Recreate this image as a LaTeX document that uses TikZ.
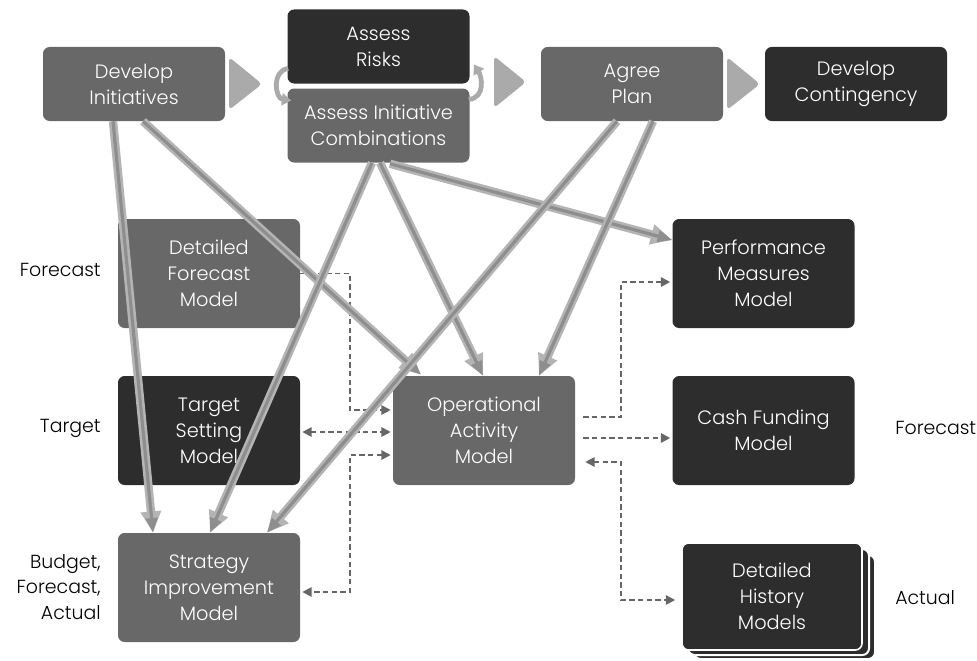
\documentclass[tikz,border=0pt]{standalone}
\usepackage{fontspec}
\setmainfont{Poppins}[UprightFont=*-Light]
\usetikzlibrary{arrows.meta,calc}
\definecolor{boxmid}{HTML}{686868}
\definecolor{boxdark}{HTML}{2D2D2D}
\definecolor{arrout}{HTML}{B4B4B4}
\definecolor{arrin}{HTML}{8E8E8E}
\definecolor{chev}{HTML}{AAAAAA}
\definecolor{dash}{HTML}{666666}
\tikzset{
  box/.style={rectangle, rounded corners=5pt, text=white, align=center,
    minimum width=136.5pt, minimum height=55.5pt, inner sep=2pt,
    font=\fontsize{14.5}{19.5}\selectfont},
  tall/.style={box, minimum height=81.75pt},
  mid/.style={fill=boxmid},
  dark/.style={fill=boxdark},
  lbl/.style={text=black, align=right, inner sep=0pt, font=\fontsize{14.2}{19}\selectfont},
  bigarrow/.style={line width=6.3pt, draw=arrout, -{Triangle[length=16pt,width=14.5pt]},
    postaction={draw=arrin, line width=2.4pt, -{Triangle[length=11pt,width=8.5pt]}}},
  dashedarrow/.style={draw=dash, line width=1.4pt, dash pattern=on 4pt off 2.5pt,
    -{Triangle[length=7pt,width=7pt]}},
  dashedboth/.style={dashedarrow, {Triangle[length=7pt,width=7pt]}-{Triangle[length=7pt,width=7pt]}},
  cycarrow/.style={draw=chev, line width=3.6pt, -{Triangle[length=7pt,width=9pt]}},
  chevron/.style={fill=chev, rounded corners=3pt}
}
\begin{document}
\begin{tikzpicture}[x=0.75pt,y=-0.75pt]
\useasboundingbox (0,0) rectangle (977,660);
% top row
\node[box,mid] (devinit) at (134,84) {Develop\\Initiatives};
\node[box,dark] (risks) at (378.5,46.5) {Assess\\Risks};
\node[box,mid] (combos) at (378.5,125.5) {Assess Initiative\\Combinations};
\node[box,mid] (agree) at (632,84) {Agree\\Plan};
\node[box,dark] (contin) at (856,84) {Develop\\Contingency};
% chevrons
\fill[chevron] (229,57) -- (262,84) -- (229,110) -- cycle;
\fill[chevron] (494,56) -- (526,82) -- (494,108) -- cycle;
\fill[chevron] (727,57) -- (760,84) -- (727,110) -- cycle;
% cycle arrows
\draw[cycarrow] ($(risks.west)+(1,22)$) .. controls +(-17,2) and +(-16,-2) .. ($(combos.west)+(4,-25)$);
\draw[cycarrow] ($(combos.east)+(-1,-26)$) .. controls +(17,-2) and +(8,12) .. ($(risks.east)+(4,18)$);
% models
\node[tall,mid] (dfm) at (209,273.5) {Detailed\\Forecast\\Model};
\node[tall,dark] (tsm) at (209,430.5) {Target\\Setting\\Model};
\node[tall,mid] (sim) at (209,587.5) {Strategy\\Improvement\\Model};
\node[tall,mid] (oam) at (484,430.5) {Operational\\Activity\\Model};
\node[tall,dark] (pmm) at (763.5,273.5) {Performance\\Measures\\Model};
\node[tall,dark] (cfm) at (763.5,430.5) {Cash Funding\\Model};
% stacked history models
\fill[boxdark, draw=white, line width=1.5pt, rounded corners=5pt] (694,555) rectangle (875,659);
\fill[boxdark, draw=white, line width=1.5pt, rounded corners=5pt] (688,549) rectangle (869,655);
\node[tall,dark,draw=white,line width=1.2pt,minimum width=135pt,minimum height=80.25pt] (dhm) at (772,596.5) {Detailed\\History\\Models};
% labels
\node[lbl,anchor=east] (l1) at (101,270) {Forecast};
\node[lbl,anchor=east] (l2) at (101,428) {Target};
\node[lbl,anchor=east] (l3) at (101,587) {Budget,\\Forecast,\\Actual};
\node[lbl,anchor=west] (l4) at (895,428) {Forecast};
\node[lbl,anchor=west] (l5) at (895,598) {Actual};
% dashed connectors
\draw[dashedarrow] (dfm.east) -- (350,273.5) |- ($(oam.west)+(-2,-20.5)$);
\draw[dashedboth] ($(tsm.east)+(2,1.5)$) -- ($(oam.west)+(-2,1.5)$);
\draw[dashedboth] ($(oam.west)+(-2,24.5)$) -- (350,455) |- ($(sim.east)+(2,4.5)$);
\draw[dashedarrow] ($(oam.east)+(8,-13.5)$) -- (621,417) |- ($(pmm.west)+(-2,8.5)$);
\draw[dashedarrow] ($(oam.east)+(8,7.5)$) -- ($(cfm.west)+(-2,7.5)$);
\draw[dashedboth] ($(oam.east)+(10,31.5)$) -- (621,462) |- ($(dhm.west)+(-6,3.5)$);
% thick arrows
\draw[bigarrow] ($(devinit.south)+(-21,0)$) -- ($(sim.north)+(-56,0)$);
\draw[bigarrow] ($(devinit.south)+(9,0)$) -- ($(oam.north)+(-63,-1)$);
\draw[bigarrow] ($(combos.south)+(-6.5,0)$) -- ($(sim.north)+(1,0)$);
\draw[bigarrow] ($(combos.south)+(1.5,0)$) -- ($(oam.north)+(-1,0)$);
\draw[bigarrow] ($(combos.south)+(11.5,1)$) -- ($(pmm.west)+(0,-33.5)$);
\draw[bigarrow] ($(agree.south)+(-15,0)$) -- ($(sim.north)+(58,0)$);
\draw[bigarrow] ($(agree.south)+(21,0)$) -- ($(oam.north)+(55,0)$);
\end{tikzpicture}
\end{document}
